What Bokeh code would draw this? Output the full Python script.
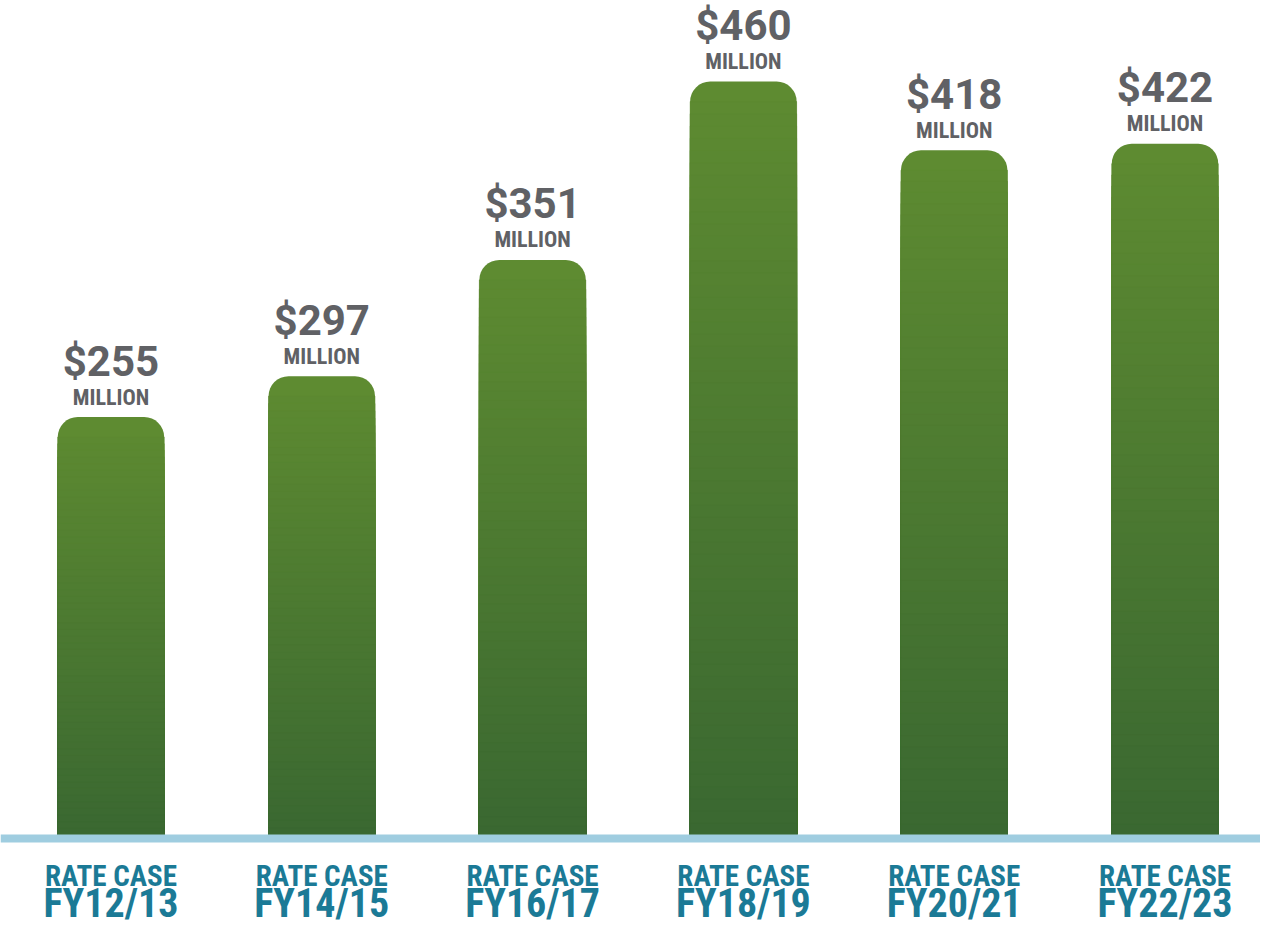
import numpy as np
from bokeh.plotting import figure
from bokeh.models import Range1d, Span, ColumnDataSource
from bokeh.core.properties import value
from bokeh.embed import file_html
from bokeh.resources import INLINE

# ---- data ----
categories = ["FY12/13", "FY14/15", "FY16/17", "FY18/19", "FY20/21", "FY22/23"]
category_prefix = ["RATE CASE"] * 6
value_labels = ["$255", "$297", "$351", "$460", "$418", "$422"]
unit_labels = ["MILLION"] * 6
# bar heights as drawn in the reference (in $ million)
bar_heights = [255, 280, 351, 460, 418, 422]

# ---- styling ----
GREEN_TOP = np.array([0x5e, 0x8b, 0x31])
GREEN_BOTTOM = np.array([0x3a, 0x68, 0x31])
GRAY = "#606165"
TEAL = "#1b7a96"
LINE_BLUE = "#9fcde0"
PX_PER_UNIT = 1.637
BAR_W = 0.505
CONDENSED = ("Roboto Condensed, Noto Sans Condensed, "
             "Liberation Sans Narrow, Roboto, sans-serif")

xs = list(range(len(categories)))

p = figure(width=1260, height=930, output_backend="svg", toolbar_location=None,
           x_range=Range1d(-0.524, 5.453), y_range=Range1d(-58.64, 509.5),
           x_axis_location=None, y_axis_location=None, min_border=0)
p.outline_line_color = None
p.grid.visible = False
p.background_fill_color = "white"
p.border_fill_color = "white"


def hexc(c):
    return "#%02x%02x%02x" % tuple(int(round(v)) for v in c)


# base bars (top colour, rounded top corners)
p.vbar(x=xs, top=bar_heights, bottom=0, width=BAR_W,
       fill_color=hexc(GREEN_TOP), line_color=None,
       border_radius=(20, 20, 0, 0))

# vertical gradient: overlay bands, tallest first
N = 60
rad_units = 20 / PX_PER_UNIT
bx, btop, bcol, border = [], [], [], []
for i, h in enumerate(bar_heights):
    tops = np.linspace(h * 0.015, h - rad_units, N)
    for k, t in enumerate(tops):
        frac = (t - h / N * 0.5) / h
        frac = min(max(frac, 0), 1)
        c = GREEN_BOTTOM + (GREEN_TOP - GREEN_BOTTOM) * frac
        bx.append(xs[i]); btop.append(t); bcol.append(hexc(c)); border.append(-t / h)
order = np.argsort(border)  # tallest first
src = ColumnDataSource(dict(x=[bx[j] for j in order], top=[btop[j] for j in order],
                            color=[bcol[j] for j in order]))
p.vbar(x="x", top="top", bottom=0, width=BAR_W, fill_color="color",
       line_color="color", line_width=0.5, source=src)

# baseline
p.add_layout(Span(location=-4 / PX_PER_UNIT, dimension="width",
                  line_color=LINE_BLUE, line_width=8))

# value labels
p.text(x=xs, y=bar_heights, text=value_labels, y_offset=-56,
       text_align="center", text_baseline="alphabetic",
       text_font=value("Roboto"), text_font_style="bold",
       text_font_size="42px", text_color=GRAY)
p.text(x=xs, y=bar_heights, text=unit_labels, y_offset=-20,
       text_align="center", text_baseline="alphabetic",
       text_font=value(CONDENSED), text_font_style="bold",
       text_font_size="22px", text_color=GRAY)

# category labels
p.text(x=xs, y=[0] * 6, text=category_prefix, y_offset=41,
       text_align="center", text_baseline="alphabetic",
       text_font=value(CONDENSED), text_font_style="bold",
       text_font_size="29px", text_color=TEAL)
p.text(x=xs, y=[0] * 6, text=categories, y_offset=69,
       text_align="center", text_baseline="alphabetic",
       text_font=value(CONDENSED), text_font_style="bold",
       text_font_size="40px", text_color=TEAL)

open("out.html", "w").write(file_html(p, INLINE))
